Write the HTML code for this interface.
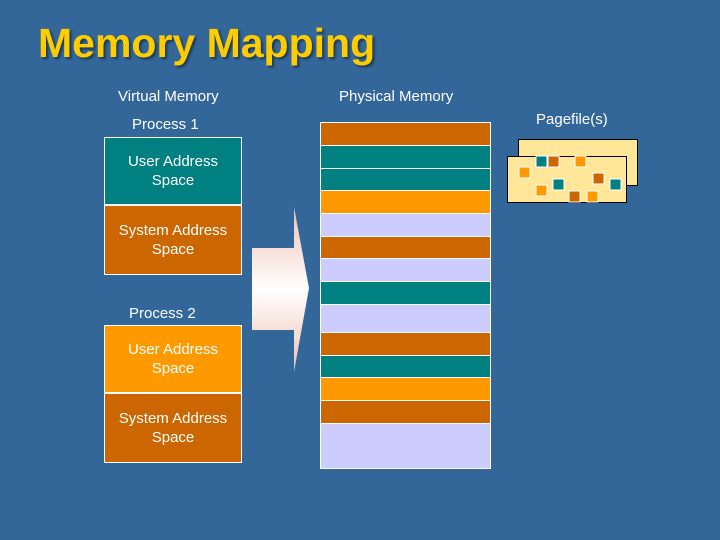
<!DOCTYPE html><html><head><style>
body{margin:0;width:720px;height:540px;background:#336699;position:relative;overflow:hidden;font-family:"Liberation Sans",sans-serif;color:#fff}
.a{position:absolute}
.t{font-size:15px}
.box{position:absolute;left:104px;width:136px;border:1px solid #fff;display:flex;align-items:center;justify-content:center;text-align:center;font-size:15px;line-height:19px}
</style></head><body>
<div class="a" style="left:38px;top:20px;font-size:41px;font-weight:bold;color:#FFCC00;text-shadow:2px 2px 2px #1a3a5a">Memory Mapping</div>
<div class="a t" style="left:118px;top:88px">Virtual Memory</div>
<div class="a t" style="left:339px;top:88px">Physical Memory</div>
<div class="a t" style="left:536px;top:111px">Pagefile(s)</div>
<div class="a t" style="left:132px;top:116px">Process 1</div>
<div class="a t" style="left:129px;top:305px">Process 2</div>
<div class="box" style="top:137px;height:66px;background:#008080">User Address<br>Space</div>
<div class="box" style="top:205px;height:68px;background:#CC6600">System Address<br>Space</div>
<div class="box" style="top:325px;height:66px;background:#FF9900">User Address<br>Space</div>
<div class="box" style="top:393px;height:68px;background:#CC6600">System Address<br>Space</div>
<svg class="a" style="left:0;top:0" width="720" height="540">
<defs><linearGradient id="g" x1="0" y1="0" x2="0" y2="1"><stop offset="0" stop-color="#f0c0b0"/><stop offset=".5" stop-color="#fff"/><stop offset="1" stop-color="#f0c0b0"/></linearGradient></defs>
<polygon points="252,248 294,248 294,207 309,288 294,372 294,330 252,330" fill="url(#g)"/>
<g stroke="#fff" stroke-width="1">
<rect x="320.5" y="122.5" width="170" height="23" fill="#CC6600"/>
<rect x="320.5" y="145.5" width="170" height="23" fill="#008080"/>
<rect x="320.5" y="168.5" width="170" height="22" fill="#008080"/>
<rect x="320.5" y="190.5" width="170" height="23" fill="#FF9900"/>
<rect x="320.5" y="213.5" width="170" height="23" fill="#CCCCFF"/>
<rect x="320.5" y="236.5" width="170" height="22" fill="#CC6600"/>
<rect x="320.5" y="258.5" width="170" height="23" fill="#CCCCFF"/>
<rect x="320.5" y="281.5" width="170" height="23" fill="#008080"/>
<rect x="320.5" y="304.5" width="170" height="28" fill="#CCCCFF"/>
<rect x="320.5" y="332.5" width="170" height="23" fill="#CC6600"/>
<rect x="320.5" y="355.5" width="170" height="22" fill="#008080"/>
<rect x="320.5" y="377.5" width="170" height="23" fill="#FF9900"/>
<rect x="320.5" y="400.5" width="170" height="23" fill="#CC6600"/>
<rect x="320.5" y="423.5" width="170" height="45" fill="#CCCCFF"/>
</g>
<rect x="518.5" y="139.5" width="119" height="46" fill="#FFE699" stroke="#000"/>
<rect x="507.5" y="156.5" width="119" height="46" fill="#FFE699" stroke="#000"/>
<g stroke="#fff" stroke-width="1">
<rect x="536" y="156" width="11" height="11" fill="#008080"/>
<rect x="548" y="156" width="11" height="11" fill="#CC6600"/>
<rect x="575" y="156" width="11" height="11" fill="#FF9900"/>
<rect x="519" y="167" width="11" height="11" fill="#FF9900"/>
<rect x="553" y="179" width="11" height="11" fill="#008080"/>
<rect x="593" y="173" width="11" height="11" fill="#CC6600"/>
<rect x="610" y="179" width="11" height="11" fill="#008080"/>
<rect x="536" y="185" width="11" height="11" fill="#FF9900"/>
<rect x="569" y="191" width="11" height="11" fill="#CC6600"/>
<rect x="587" y="191" width="11" height="11" fill="#FF9900"/>
</g>
</svg>
</body></html>
